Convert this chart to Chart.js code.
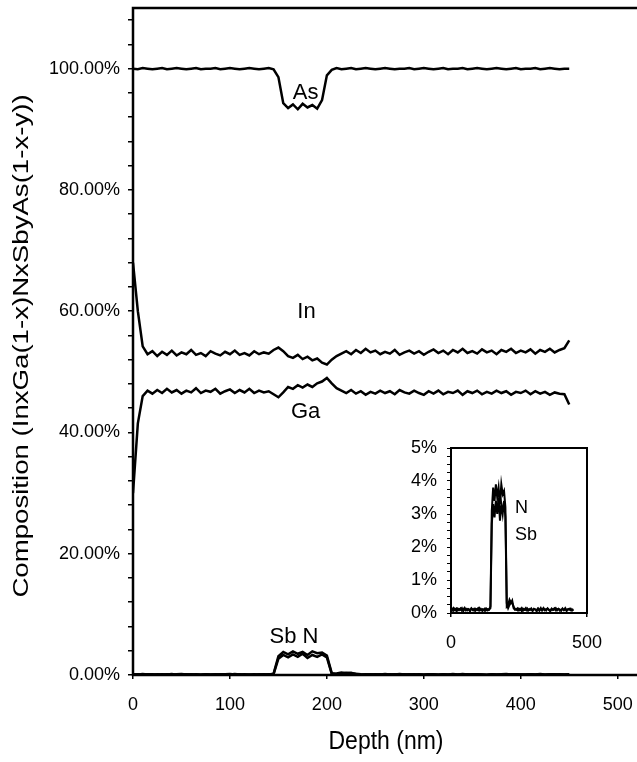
<!DOCTYPE html>
<html>
<head>
<meta charset="utf-8">
<script src="https://cdn.jsdelivr.net/npm/chart.js@4"></script>
<style>
  html, body { margin: 0; padding: 0; background: #fff; overflow: hidden; }
  #wrap { position: relative; width: 637px; height: 762px; overflow: hidden; }
  #main { position: absolute; left: 0; top: 0; }
  #inset { position: absolute; left: 380px; top: 430px; }
</style>
</head>
<body>
<div id="wrap">
  <canvas id="main" width="642" height="762"></canvas>
  <canvas id="inset" width="230" height="230"></canvas>
</div>
<script>
// Depth (nm), sampled every 5 nm
const depth = [0,5,10,15,20,25,30,35,40,45,50,55,60,65,70,75,80,85,90,95,
  100,105,110,115,120,125,130,135,140,145,150,155,160,165,170,175,180,185,190,195,
  200,205,210,215,220,225,230,235,240,245,250,255,260,265,270,275,280,285,290,295,
  300,305,310,315,320,325,330,335,340,345,350,355,360,365,370,375,380,385,390,395,
  400,405,410,415,420,425,430,435,440,445,450];

// Composition (%)
const asVals = [100,99.9,100.1,100,99.9,100,100.1,99.9,100,100.1,
  100,99.9,100,100.1,99.9,100,100,100.1,99.9,100,
  100.1,100,99.9,100,100.1,100,99.9,100,100.1,99.9,
  98.6,94.3,93.5,94.1,93.3,94.2,93.6,94.0,93.4,94.8,
  98.9,99.8,100.1,99.9,100,100.1,99.9,100,100.1,100,
  99.9,100,100.1,100,99.9,100,100,100.1,99.9,100,
  100.1,100,99.9,100,100.1,99.9,100,100,100.1,99.9,
  100,100.1,100,99.9,100,100.1,100,99.9,100,100.1,
  99.9,100,100,100.1,99.9,100,100.1,100,99.9,100,100];

const inVals = [68,60,54.2,52.9,53.4,52.6,53.3,52.8,53.5,52.7,
  53.2,52.9,53.6,52.8,53.1,52.6,53.4,53.0,52.7,53.3,
  52.9,53.5,52.8,53.1,52.7,53.4,52.9,53.2,53.0,53.6,
  54.0,53.4,52.6,52.3,52.8,52.1,52.5,51.9,52.2,51.5,
  51.2,52.0,52.6,53.0,53.4,52.9,53.6,53.1,53.8,53.2,
  53.5,52.9,53.3,53.0,53.6,52.8,53.2,53.5,53.0,53.4,
  52.8,53.3,53.7,53.1,53.5,52.9,53.6,53.2,53.8,53.1,
  53.4,53.0,53.7,53.2,53.5,52.9,53.6,53.3,53.8,53.1,
  53.5,53.2,53.7,53.0,53.6,53.3,53.8,53.2,53.6,53.9,55.2];

const gaVals = [30,41.5,46.0,46.9,46.4,47.0,46.5,47.2,46.6,47.0,
  46.4,46.9,46.6,47.3,46.5,46.9,46.7,47.2,46.4,46.8,
  47.1,46.5,47.0,46.6,47.2,46.5,46.9,46.6,46.8,46.3,
  45.8,46.6,47.5,47.2,47.8,47.4,47.9,47.5,48.1,48.4,
  49.0,48.1,47.3,46.9,46.5,47.0,46.4,46.8,46.2,46.7,
  46.4,46.9,46.5,46.8,46.3,47.0,46.6,46.4,46.9,46.5,
  46.2,46.8,46.4,46.9,46.3,46.7,46.5,46.9,46.2,46.8,
  46.5,46.9,46.3,46.7,46.4,46.9,46.5,46.8,46.2,46.7,
  46.5,46.9,46.3,46.8,46.4,46.7,46.2,46.6,46.4,46.3,44.6];

const nVals = [0.12,0.08,0.15,0.1,0.06,0.13,0.09,0.14,0.07,0.11,
  0.16,0.08,0.12,0.1,0.05,0.14,0.09,0.13,0.07,0.11,
  0.15,0.08,0.12,0.06,0.1,0.14,0.09,0.12,0.1,0.2,
  3.1,3.8,3.4,3.9,3.5,3.8,3.3,3.9,3.6,3.7,
  3.2,0.3,0.15,0.25,0.35,0.3,0.2,0.12,0.1,0.14,
  0.08,0.12,0.06,0.13,0.1,0.15,0.07,0.11,0.09,0.14,
  0.08,0.12,0.1,0.05,0.13,0.09,0.15,0.07,0.11,0.12,
  0.08,0.14,0.1,0.06,0.13,0.09,0.11,0.15,0.08,0.12,
  0.1,0.07,0.14,0.09,0.12,0.06,0.11,0.13,0.08,0.1,0.12];

const sbVals = [0.09,0.13,0.07,0.11,0.14,0.08,0.12,0.1,0.15,0.06,
  0.11,0.13,0.08,0.12,0.09,0.14,0.1,0.07,0.13,0.11,
  0.08,0.15,0.09,0.12,0.1,0.06,0.13,0.08,0.11,0.15,
  2.7,3.3,2.9,3.4,3.0,3.5,2.8,3.3,3.0,3.4,
  2.9,0.2,0.25,0.4,0.3,0.38,0.15,0.1,0.12,0.08,
  0.13,0.1,0.15,0.07,0.11,0.09,0.14,0.08,0.12,0.1,
  0.06,0.13,0.11,0.09,0.14,0.07,0.12,0.1,0.15,0.08,
  0.11,0.13,0.09,0.06,0.12,0.1,0.14,0.08,0.11,0.13,
  0.07,0.1,0.12,0.09,0.15,0.08,0.11,0.1,0.13,0.07,0.1];

// axis ticks: labelled ones, and the minor step between them
const mainXTicks = [0, 100, 200, 300, 400, 500];
const mainYTicks = [0, 20, 40, 60, 80, 100];
const mainYMinor = 4;
const insetXTicks = [0, 500];
const insetYTicks = [0, 1, 2, 3, 4, 5];
const insetYMinor = 0.25;

const FONT = "'Liberation Sans', Arial, sans-serif";

function pts(vals) {
  return depth.map((d, i) => ({ x: d, y: vals[i] }));
}

function series(vals, w) {
  return {
    data: pts(vals),
    borderColor: '#000',
    borderWidth: w,
    pointRadius: 0,
    tension: 0,
    fill: false
  };
}

// no extra room for overhanging tick labels
function fixBox(s, w, h) {
  if (w) s.width = w;
  if (h) s.height = h;
  s.paddingLeft = 0; s.paddingRight = 0;
  s.paddingTop = 0; s.paddingBottom = 0;
}

function minorTicks(max, step) {
  const out = [];
  for (let v = 0; v <= max + 1e-9; v += step) out.push({ value: +v.toFixed(4) });
  return out;
}

// box around the plot area, in-plot labels and the (stretched) axis titles
const decor = {
  id: 'decor',
  afterDatasetsDraw(chart, args, opts) {
    const { ctx, chartArea: a, scales } = chart;
    ctx.save();
    ctx.strokeStyle = '#000';
    ctx.lineWidth = opts.frame;
    ctx.strokeRect(a.left, a.top, a.right - a.left, a.bottom - a.top);
    ctx.fillStyle = '#000';
    ctx.textBaseline = 'middle';
    (opts.labels || []).forEach(l => {
      ctx.font = l.size + 'px ' + FONT;
      ctx.textAlign = l.align || 'center';
      ctx.fillText(l.text, scales.x.getPixelForValue(l.x), scales.y.getPixelForValue(l.y));
    });
    ctx.textAlign = 'center';
    (opts.titles || []).forEach(t => {
      ctx.save();
      ctx.translate(t.cx, t.cy);
      ctx.rotate(t.rot || 0);
      ctx.scale(t.sx || 1, t.sy || 1);
      ctx.font = t.size + 'px ' + FONT;
      ctx.fillText(t.text, 0, 0);
      ctx.restore();
    });
    ctx.restore();
  }
};

document.addEventListener('DOMContentLoaded', () => {
  Chart.defaults.font.family = FONT;
  Chart.defaults.color = '#000';

  new Chart(document.getElementById('main'), {
    type: 'line',
    data: {
      datasets: [
        series(asVals, 2.5),
        series(inVals, 2.5),
        series(gaVals, 2.5),
        series(nVals, 2.5),
        series(sbVals, 2.5)
      ]
    },
    options: {
      responsive: false,
      animation: false,
      layout: { padding: { top: 8, left: 0, right: 2, bottom: 0 } },
      plugins: {
        legend: { display: false },
        tooltip: { enabled: false },
        decor: {
          frame: 2.5,
          labels: [
            { text: 'As', x: 178, y: 96, size: 22 },
            { text: 'In', x: 179, y: 59.8, size: 22 },
            { text: 'Ga', x: 178, y: 43.4, size: 22 },
            { text: 'Sb N', x: 166, y: 6.3, size: 22 }
          ],
          titles: [
            { text: 'Depth (nm)', cx: 386, cy: 742, size: 23, sy: 1.12 },
            { text: 'Composition (InxGa(1-x)NxSbyAs(1-x-y))', cx: 22, cy: 346, size: 22,
              rot: -Math.PI / 2, sx: 1.255 }
          ]
        }
      },
      scales: {
        x: {
          type: 'linear',
          min: 0,
          max: 523,
          afterBuildTicks: s => { s.ticks = mainXTicks.map(v => ({ value: v })); },
          afterFit: s => fixBox(s, 0, 87),
          grid: { drawOnChartArea: false, color: '#000', tickLength: 4, lineWidth: 1.5 },
          border: { display: false },
          ticks: {
            autoSkip: false,
            padding: 15,
            font: { size: 18 },
            maxRotation: 0,
            callback: v => String(v)
          }
        },
        y: {
          min: 0,
          max: 110,
          afterBuildTicks: s => { s.ticks = minorTicks(108, mainYMinor); },
          afterFit: s => fixBox(s, 133, 0),
          grid: { drawOnChartArea: false, color: '#000', tickLength: 5, lineWidth: 1.5 },
          border: { display: false },
          ticks: {
            autoSkip: false,
            padding: 8,
            font: { size: 18 },
            callback: v => mainYTicks.includes(v) ? v.toFixed(2) + '%' : ''
          }
        }
      }
    },
    plugins: [decor]
  });

  new Chart(document.getElementById('inset'), {
    type: 'line',
    data: {
      datasets: [
        series(nVals, 2),
        series(sbVals, 2)
      ]
    },
    options: {
      responsive: false,
      animation: false,
      layout: { padding: { top: 18, left: 0, right: 23, bottom: 0 } },
      plugins: {
        legend: { display: false },
        tooltip: { enabled: false },
        decor: {
          frame: 2,
          labels: [
            { text: 'N', x: 235, y: 3.18, size: 18, align: 'left' },
            { text: 'Sb', x: 235, y: 2.36, size: 18, align: 'left' }
          ]
        }
      },
      scales: {
        x: {
          type: 'linear',
          min: 0,
          max: 500,
          afterBuildTicks: s => { s.ticks = insetXTicks.map(v => ({ value: v })); },
          afterFit: s => fixBox(s, 0, 47),
          grid: { drawOnChartArea: false, color: '#000', tickLength: 4, lineWidth: 1.5 },
          border: { display: false },
          ticks: { autoSkip: false, padding: 15, font: { size: 18 }, maxRotation: 0, callback: v => String(v) }
        },
        y: {
          min: 0,
          max: 5,
          afterBuildTicks: s => { s.ticks = minorTicks(5, insetYMinor); },
          afterFit: s => fixBox(s, 71, 0),
          grid: { drawOnChartArea: false, color: '#000', tickLength: 4, lineWidth: 1 },
          border: { display: false },
          ticks: {
            autoSkip: false,
            padding: 10,
            font: { size: 18 },
            callback: v => insetYTicks.includes(v) ? v + '%' : ''
          }
        }
      }
    },
    plugins: [decor]
  });
});
</script>
</body>
</html>
